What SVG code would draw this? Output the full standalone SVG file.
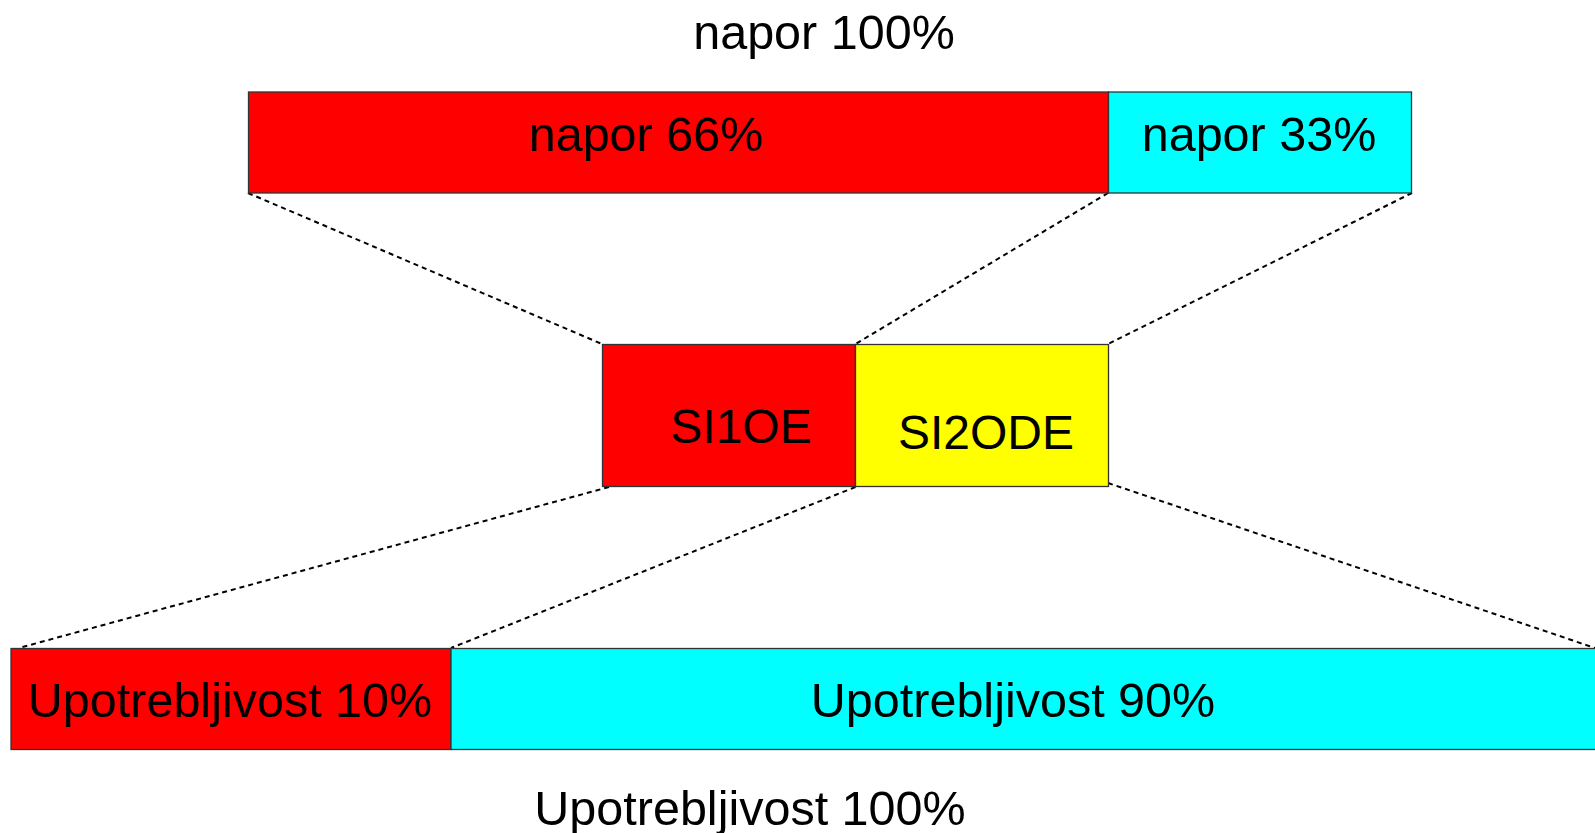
<svg xmlns="http://www.w3.org/2000/svg" width="1595" height="833" viewBox="0 0 1595 833">
  <style>
    text { font-family: "Liberation Sans", Arial, sans-serif; font-size: 48.5px; fill: #000; text-anchor: middle; }
    .box { stroke: #333; stroke-width: 1.3; }
    .red { fill: #ff0000; }
    .cyan { fill: #00ffff; }
    .yellow { fill: #ffff00; }
    .link { stroke: #000; stroke-width: 2; stroke-dasharray: 5 4; fill: none; }
  </style>
  <rect width="1595" height="833" fill="#fff"/>

  <!-- total pressure caption -->
  <text x="824" y="49">napor 100%</text>

  <!-- dashed connectors between the levels -->
  <g id="connectors">
    <line class="link" x1="248" y1="193" x2="602" y2="344"/>
    <line class="link" x1="1108" y1="193" x2="855.5" y2="344"/>
    <line class="link" x1="1412" y1="193" x2="1108" y2="344"/>
    <line class="link" x1="609" y1="487" x2="19" y2="648"/>
    <line class="link" x1="855.5" y1="487" x2="451" y2="648"/>
    <line class="link" x1="1108" y1="483" x2="1595" y2="648"/>
  </g>

  <!-- top bar: pressure split -->
  <g id="napor66">
    <rect class="box red" x="248.5" y="92" width="860" height="101"/>
    <text x="646" y="151">napor 66%</text>
  </g>
  <g id="napor33">
    <rect class="box cyan" x="1108.5" y="92" width="303" height="101"/>
    <text x="1259" y="151">napor 33%</text>
  </g>

  <!-- middle: variants -->
  <g id="si1oe">
    <rect class="box red" x="602.5" y="344.5" width="253" height="142"/>
    <text x="741" y="443" style="font-size:48px">SI1OE</text>
  </g>
  <g id="si2ode">
    <rect class="box yellow" x="855.5" y="344.5" width="253" height="142"/>
    <text x="986" y="449" style="font-size:48px">SI2ODE</text>
  </g>

  <!-- bottom bar: usability split -->
  <g id="upotrebljivost10">
    <rect class="box red" x="11" y="648.5" width="440" height="101"/>
    <text x="230" y="717">Upotrebljivost 10%</text>
  </g>
  <g id="upotrebljivost90">
    <rect class="box cyan" x="451" y="648.5" width="1150" height="101"/>
    <text x="1013" y="717">Upotrebljivost 90%</text>
  </g>

  <!-- total usability caption -->
  <text x="750" y="825">Upotrebljivost 100%</text>
</svg>
